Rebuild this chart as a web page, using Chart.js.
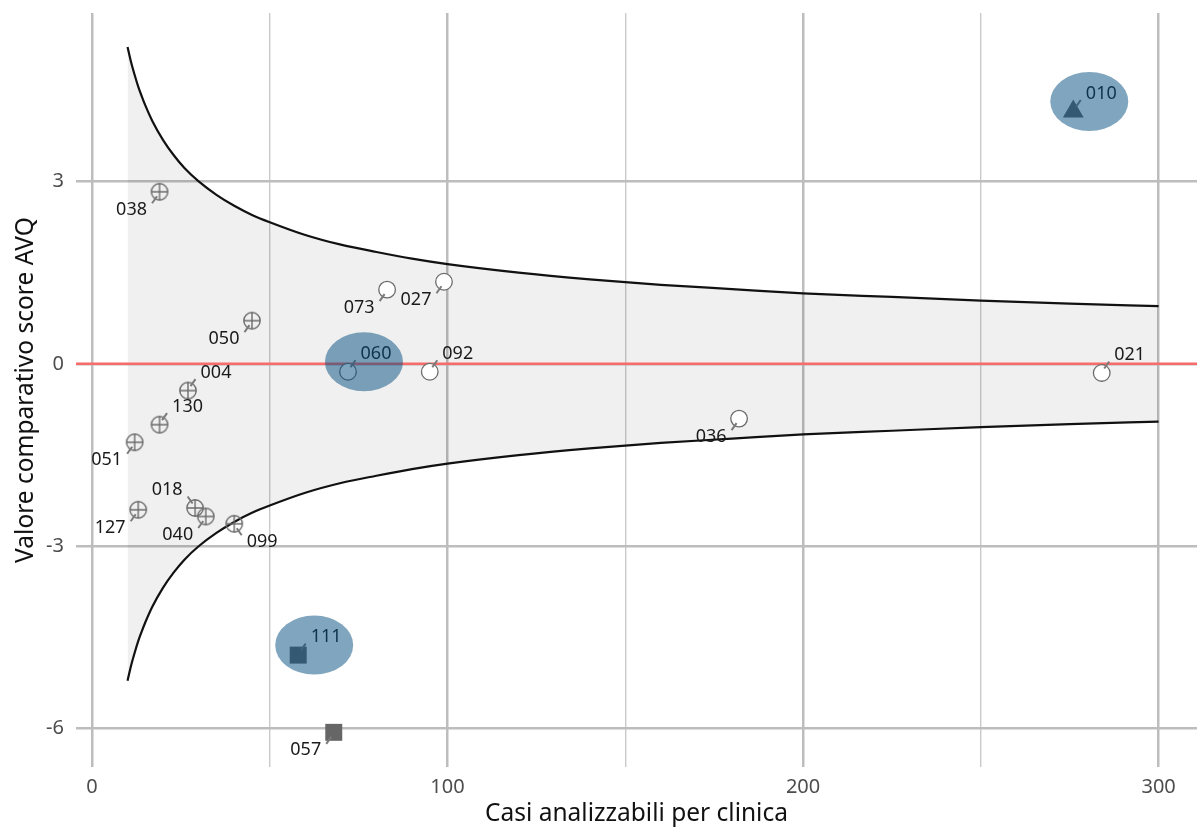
<!DOCTYPE html>
<html>
<head>
<meta charset="utf-8">
<script src="https://cdn.jsdelivr.net/npm/chart.js@4"></script>
<style>
  html, body { margin: 0; padding: 0; background: #fff; }
</style>
</head>
<body>
<canvas id="chart" width="1197" height="830"></canvas>
<script>
// clinics
const codes  = ['038', '050', '004', '130', '051', '127', '018', '040', '099', '073', '027', '060', '092', '021', '036', '010', '111', '057'];
const cases  = [19, 45, 27, 19, 12, 13, 29, 32, 40, 83, 99, 72, 95, 284, 182, 276, 58, 68];
const scores = [2.83, 0.71, -0.44, -1.00, -1.29, -2.40, -2.37, -2.51, -2.63, 1.22, 1.35, -0.13, -0.13, -0.15, -0.90, 4.15, -4.79, -6.06];
const groups = ['pochi', 'pochi', 'pochi', 'pochi', 'pochi', 'pochi', 'pochi', 'pochi', 'pochi',
                'norma', 'norma', 'norma', 'norma', 'norma', 'norma', 'sopra', 'sotto', 'sotto'];
const highlighted = ['010', '060', '111'];

// funnel limits
const funnelN     = [10, 11, 12, 13, 14, 15, 17, 20, 23, 26, 30, 35, 40, 45, 50, 60, 70, 80, 90, 100, 120, 140, 160, 180, 200, 225, 250, 275, 300];
const funnelUpper = [5.21, 4.96, 4.75, 4.56, 4.40, 4.25, 3.99, 3.68, 3.43, 3.22, 3.00, 2.78, 2.60, 2.45, 2.33, 2.12, 1.96, 1.84, 1.73, 1.64, 1.50, 1.39, 1.30, 1.23, 1.16, 1.10, 1.04, 0.99, 0.95];
const funnelLower = [-5.21, -4.96, -4.75, -4.56, -4.40, -4.25, -3.99, -3.68, -3.43, -3.22, -3.00, -2.78, -2.60, -2.45, -2.33, -2.12, -1.96, -1.84, -1.73, -1.64, -1.50, -1.39, -1.30, -1.23, -1.16, -1.10, -1.04, -0.99, -0.95];

const xTicks = [0, 100, 200, 300];
const xMinor = [50, 150, 250];
const yTicks = [-6, -3, 0, 3];

// where each label sits relative to its point
const labelDir = {
    '038': 'dl', '050': 'dl', '004': 'ur', '130': 'ur', '051': 'dl', '127': 'dl', '018': 'ul', '040': 'dl', '099': 'dr',
    '073': 'dl', '027': 'dl', '060': 'ur', '092': 'ur', '021': 'ur', '036': 'dl', '010': 'ur', '111': 'ur', '057': 'dl'
};

const FONT = "'Noto Sans', sans-serif";
const GREY = '#6b6b6b';

function crossCircle() {
    const c = document.createElement('canvas');
    c.width = 20; c.height = 20;
    const g = c.getContext('2d');
    g.strokeStyle = GREY;
    g.lineWidth = 1.4;
    g.beginPath();
    g.arc(10, 10, 8.2, 0, Math.PI * 2);
    g.moveTo(10, 1.8); g.lineTo(10, 18.2);
    g.moveTo(1.8, 10); g.lineTo(18.2, 10);
    g.stroke();
    return c;
}

function pointsOf(group) {
    const out = [];
    codes.forEach((code, i) => {
        if (groups[i] === group) out.push({ x: cases[i], y: scores[i] });
    });
    return out;
}

const overlayPlugin = {
    id: 'overlay',
    afterDatasetDraw(chart, args) {
        // reference line at zero, over the funnel band
        if (args.index !== 1) return;
        const ctx = chart.ctx;
        const area = chart.chartArea;
        const y0 = chart.scales.y.getPixelForValue(0);
        ctx.save();
        ctx.strokeStyle = '#f76b6b';
        ctx.lineWidth = 2.5;
        ctx.beginPath();
        ctx.moveTo(area.left, y0);
        ctx.lineTo(area.right, y0);
        ctx.stroke();
        ctx.restore();
    },
    afterDatasetsDraw(chart) {
        const ctx = chart.ctx;
        const xs = chart.scales.x, ys = chart.scales.y;
        ctx.save();
        ctx.font = '18px ' + FONT;
        ctx.textAlign = 'center';
        ctx.textBaseline = 'middle';
        const centres = {};
        codes.forEach((code, i) => {
            const px = xs.getPixelForValue(cases[i]);
            const py = ys.getPixelForValue(scores[i]);
            const d = labelDir[code];
            const sx = d[1] === 'r' ? 1 : -1;
            const sy = d[0] === 'd' ? 1 : -1;
            ctx.strokeStyle = '#7a7a7a';
            ctx.lineWidth = 2;
            ctx.beginPath();
            ctx.moveTo(px + sx * 2.5, py + sy * 4.5);
            ctx.lineTo(px + sx * 7.5, py + sy * 11.5);
            ctx.stroke();
            ctx.fillStyle = '#1a1a1a';
            ctx.fillText(code, px + sx * 28, py + sy * 18);
            centres[code] = [px + sx * 16, py + sy * 10];
        });
        ctx.fillStyle = 'rgba(0, 77, 125, 0.5)';
        highlighted.forEach(code => {
            const [cx, cy] = centres[code];
            ctx.beginPath();
            ctx.ellipse(cx, cy, 39, 29.5, 0, 0, Math.PI * 2);
            ctx.fill();
        });
        ctx.restore();
    }
};

const ctx = document.getElementById('chart').getContext('2d');
new Chart(ctx, {
    type: 'scatter',
    data: {
        datasets: [
            {
                type: 'line',
                data: funnelN.map((n, i) => ({ x: n, y: funnelUpper[i] })),
                borderColor: '#111',
                borderWidth: 2.2,
                pointRadius: 0,
                cubicInterpolationMode: 'monotone',
                fill: '+1',
                backgroundColor: 'rgba(0, 0, 0, 0.06)',
                order: 10
            },
            {
                type: 'line',
                data: funnelN.map((n, i) => ({ x: n, y: funnelLower[i] })),
                borderColor: '#111',
                borderWidth: 2.2,
                pointRadius: 0,
                cubicInterpolationMode: 'monotone',
                fill: false,
                order: 9
            },
            {
                data: pointsOf('pochi'),
                pointStyle: crossCircle(),
                order: 1
            },
            {
                data: pointsOf('norma'),
                pointStyle: 'circle',
                pointRadius: 8.3,
                backgroundColor: '#fff',
                borderColor: GREY,
                borderWidth: 1.3,
                order: 1
            },
            {
                data: pointsOf('sotto'),
                pointStyle: 'rect',
                pointRadius: 12,
                backgroundColor: '#666',
                borderWidth: 0,
                order: 1
            },
            {
                data: pointsOf('sopra'),
                pointStyle: 'triangle',
                pointRadius: 12,
                backgroundColor: '#666',
                borderWidth: 0,
                order: 1
            }
        ]
    },
    options: {
        responsive: false,
        animation: false,
        layout: { autoPadding: false, padding: { top: 13, right: 0, left: 0, bottom: 0 } },
        plugins: {
            legend: { display: false },
            tooltip: { enabled: false },
            filler: { drawTime: 'beforeDatasetDraw' }
        },
        scales: {
            x: {
                type: 'linear',
                min: -4.5,
                max: 310.8,
                afterFit: s => { s.height = 63; s.paddingLeft = 0; s.paddingRight = 0; },
                afterBuildTicks: s => { s.ticks = [...xTicks, ...xMinor].sort((a, b) => a - b).map(v => ({ value: v })); },
                border: { display: false },
                grid: {
                    drawTicks: false,
                    color: c => xTicks.includes(c.tick.value) ? '#bdbdbd' : '#cacaca',
                    lineWidth: c => xTicks.includes(c.tick.value) ? 2.5 : 1.4
                },
                ticks: {
                    autoSkip: false,
                    maxRotation: 0,
                    padding: 8,
                    color: '#4d4d4d',
                    font: { family: FONT, size: 20 },
                    callback: v => xTicks.includes(v) ? v : ''
                },
                title: {
                    display: true,
                    text: 'Casi analizzabili per clinica',
                    color: '#111',
                    font: { family: FONT, size: 24.5 },
                    padding: { top: 0, bottom: 1 }
                }
            },
            y: {
                type: 'linear',
                min: -6.63,
                max: 5.77,
                afterFit: s => { s.width = 76; s.paddingTop = 0; s.paddingBottom = 0; },
                afterBuildTicks: s => { s.ticks = yTicks.map(v => ({ value: v })); },
                border: { display: false },
                grid: {
                    drawTicks: false,
                    color: '#bdbdbd',
                    lineWidth: 2.5
                },
                ticks: {
                    padding: 12,
                    color: '#4d4d4d',
                    font: { family: FONT, size: 20 }
                },
                title: {
                    display: true,
                    text: 'Valore comparativo score AVQ',
                    color: '#111',
                    font: { family: FONT, size: 24.5 },
                    padding: { top: 11, bottom: 0 }
                }
            }
        }
    },
    plugins: [overlayPlugin]
});
</script>
</body>
</html>
